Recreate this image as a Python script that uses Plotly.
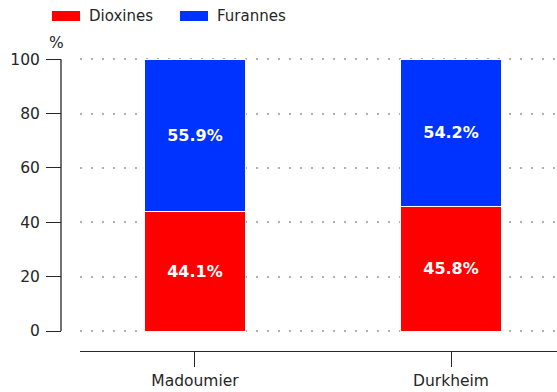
import plotly.graph_objects as go

# Share of each congener family per site (%)
sites = ["Madoumier", "Durkheim"]
dioxines = [44.1, 45.8]
furannes = [55.9, 54.2]
y_ticks = [0, 20, 40, 60, 80, 100]

RED = "#ff0000"
BLUE = "#0033ff"
FONT = "DejaVu Sans, Verdana, sans-serif"
INK = "#262626"

fig = go.Figure()
for name, vals, color in [("Dioxines", dioxines, RED), ("Furannes", furannes, BLUE)]:
    fig.add_trace(go.Bar(
        x=sites, y=vals, name=name, width=0.395,
        marker=dict(color=color, line=dict(color="white", width=1)),
        text=[f"{v:.1f}%" for v in vals],
        textposition="inside", insidetextanchor="middle",
        textfont=dict(family=FONT, size=16, color="white", weight="bold"),
        showlegend=False,
    ))

fig.update_layout(
    barmode="stack",
    width=557, height=392,
    margin=dict(l=61, r=0, t=51, b=41),
    paper_bgcolor="white", plot_bgcolor="white",
    font=dict(family=FONT, size=15, color=INK),
    xaxis=dict(
        type="category", range=[-0.449, 1.414], domain=[19 / 496, 1],
        showline=True, linecolor=INK, linewidth=1.3,
        ticks="outside", ticklen=15, tickwidth=1.3, tickcolor=INK,
        showgrid=False, tickfont=dict(size=15.5, color=INK),
    ),
    yaxis=dict(
        range=[-7.35, 103], tickvals=y_ticks, anchor="free", position=0,
        showline=False, zeroline=False,
        ticks="outside", ticklen=15, tickwidth=1.3, tickcolor=INK,
        ticklabelstandoff=3,
        showgrid=True, gridcolor="#b0b0b0", griddash="2px,9px", gridwidth=1.5,
        tickfont=dict(size=15.5, color=INK),
    ),
)

# y spine limited to the data span 0..100
fig.add_shape(type="line", xref="paper", yref="y", x0=0, x1=0, y0=0, y1=100,
              line=dict(color=INK, width=1.3))

# axis unit
fig.add_annotation(text="%", xref="paper", yref="paper", x=-5 / 496, y=1.0,
                   yshift=8, showarrow=False, xanchor="center", yanchor="middle",
                   font=dict(size=15.5, color=INK))

# legend drawn as patches + labels (paper y = (351 - px) / 300)
legend = [("Dioxines", RED, 52), ("Furannes", BLUE, 180)]
for label, color, px in legend:
    fig.add_shape(type="rect", xref="paper", yref="paper",
                  x0=(px - 61) / 496, x1=(px + 28 - 61) / 496,
                  y0=(351 - 21) / 300, y1=(351 - 11) / 300,
                  line=dict(width=0), fillcolor=color)
    fig.add_annotation(text=label, xref="paper", yref="paper",
                       x=(px + 35 - 61) / 496, y=(351 - 16) / 300,
                       showarrow=False, xanchor="left", yanchor="middle",
                       font=dict(size=15, color=INK))

fig.write_html("out.html")
